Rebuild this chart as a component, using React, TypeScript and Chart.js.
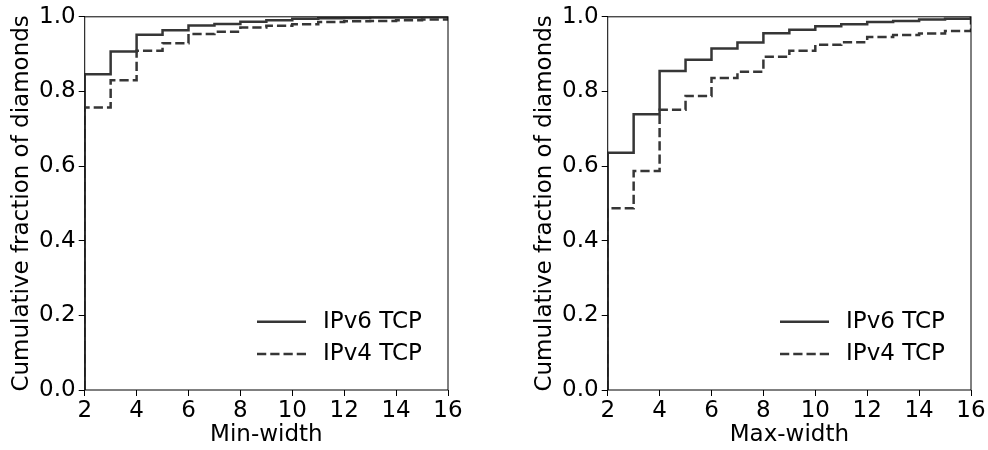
import React, { useEffect, useRef } from "react";
import { Chart, registerables } from "chart.js";

Chart.register(...registerables);

const widths = [2, 3, 4, 5, 6, 7, 8, 9, 10, 11, 12, 13, 14, 15, 16];
const minWidthIPv6 = [0.846, 0.907, 0.952, 0.964, 0.977, 0.981, 0.987, 0.991, 0.995, 0.996, 0.997, 0.998, 0.998, 0.999, 1.0];
const minWidthIPv4 = [0.757, 0.83, 0.909, 0.929, 0.954, 0.96, 0.971, 0.976, 0.98, 0.986, 0.988, 0.989, 0.991, 0.993, 1.0];
const maxWidthIPv6 = [0.636, 0.739, 0.855, 0.885, 0.915, 0.931, 0.956, 0.965, 0.975, 0.98, 0.986, 0.989, 0.993, 0.995, 1.0];
const maxWidthIPv4 = [0.487, 0.587, 0.751, 0.788, 0.836, 0.853, 0.893, 0.909, 0.925, 0.932, 0.946, 0.951, 0.955, 0.962, 1.0];
const seriesLabels = ["IPv6 TCP", "IPv4 TCP"];
const xTitles = ["Min-width", "Max-width"];
const yTitle = "Cumulative fraction of diamonds";

const FONT = "'DejaVu Sans', sans-serif";
const LINE = "#363636";
const LW = 2.5;
const DASH = [9.25, 4];

function toPoints(vals: number[]) {
  return [{ x: widths[0], y: 0 }, ...widths.map((w, i) => ({ x: w, y: vals[i] }))];
}

const framePlugin = {
  id: "frameLegend",
  afterDraw(chart: any) {
    const { ctx, chartArea } = chart;
    const { left, right, top, bottom } = chartArea;
    ctx.save();
    ctx.strokeStyle = "#000";
    ctx.lineWidth = 1;
    ctx.setLineDash([]);
    ctx.strokeRect(left, top, right - left, bottom - top);
    // legend
    const rows = [bottom - 68.3, bottom - 36];
    chart.data.datasets.forEach((ds: any, i: number) => {
      const y = rows[i];
      ctx.strokeStyle = LINE;
      ctx.lineWidth = LW;
      ctx.setLineDash(ds.borderDash || []);
      ctx.beginPath();
      ctx.moveTo(right - 191, y);
      ctx.lineTo(right - 142, y);
      ctx.stroke();
      ctx.setLineDash([]);
      ctx.fillStyle = "#000";
      ctx.font = `23px ${FONT}`;
      ctx.textAlign = "left";
      ctx.textBaseline = "middle";
      ctx.fillText(ds.label, right - 125, y);
    });
    ctx.restore();
  },
};

function Panel({ a, b, xTitle, padLeft, padRight, left }: any) {
  const ref = useRef<HTMLCanvasElement>(null);
  useEffect(() => {
    const chart = new Chart(ref.current as HTMLCanvasElement, {
      type: "line",
      data: {
        datasets: [
          {
            label: seriesLabels[0],
            data: toPoints(a),
            borderColor: LINE,
            borderWidth: LW,
            pointRadius: 0,
            stepped: "before",
            fill: false,
          },
          {
            label: seriesLabels[1],
            data: toPoints(b),
            borderColor: LINE,
            borderWidth: LW,
            borderDash: DASH,
            pointRadius: 0,
            stepped: "before",
            fill: false,
          },
        ],
      },
      options: {
        animation: false,
        responsive: false,
        devicePixelRatio: 1,
        layout: { padding: { left: padLeft, right: padRight, top: 15.7, bottom: 0 } },
        plugins: { legend: { display: false }, tooltip: { enabled: false } },
        scales: {
          x: {
            type: "linear",
            min: 2,
            max: 16,
            afterFit: (s: any) => {
              s.height = 60;
            },
            border: { display: false },
            grid: { drawOnChartArea: false, drawTicks: true, tickLength: 6, color: "#000" },
            ticks: { stepSize: 2, color: "#000", padding: 1, font: { family: FONT, size: 23 }, maxRotation: 0 },
            title: { display: true, text: xTitle, color: "#000", font: { family: FONT, size: 23 }, padding: { top: 0, bottom: 1 } },
          },
          y: {
            type: "linear",
            min: 0,
            max: 1,
            afterFit: (s: any) => {
              s.width = 84.7;
            },
            border: { display: false },
            grid: { drawOnChartArea: false, drawTicks: true, tickLength: 6, color: "#000" },
            ticks: {
              stepSize: 0.2,
              color: "#000",
              padding: 3,
              font: { family: FONT, size: 23 },
              callback: (v: any) => Number(v).toFixed(1),
            },
            title: { display: true, text: yTitle, color: "#000", font: { family: FONT, size: 23 }, padding: { top: 8, bottom: 0 } },
          },
        },
      },
      plugins: [framePlugin],
    } as any);
    return () => chart.destroy();
  }, []);
  return (
    <div style={{ position: "absolute", left, top: 0, width: 494, height: 450 }}>
      <canvas ref={ref} width={494} height={450} style={{ width: 494, height: 450 }} />
    </div>
  );
}

export default function App() {
  return (
    <div style={{ position: "absolute", left: 0, top: 0, width: 988, height: 450, background: "#fff" }}>
      <Panel a={minWidthIPv6} b={minWidthIPv4} xTitle={xTitles[0]} padLeft={0} padRight={46} left={0} />
      <Panel a={maxWidthIPv6} b={maxWidthIPv4} xTitle={xTitles[1]} padLeft={29} padRight={17} left={494} />
    </div>
  );
}
